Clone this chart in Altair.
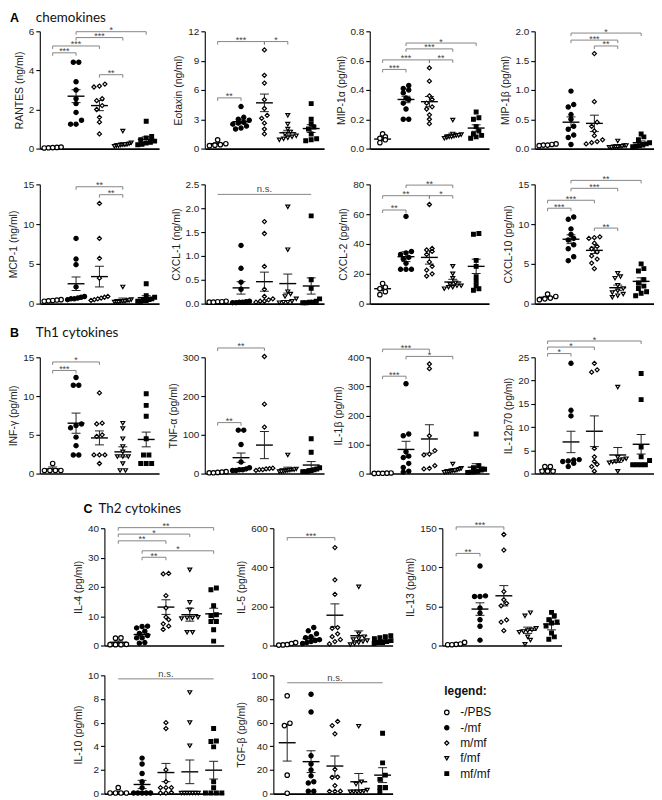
import altair as alt
import pandas as pd

GROUPS = ["-/PBS", "-/mf", "m/mf", "f/mf", "mf/mf"]
SHAPES = ["circle", "circle", "diamond", "triangle-down", "square"]
FILLS = ["white", "black", "white", "white", "black"]
SIZES = [20, 14, 26, 28, 14]

FONT = "Liberation Sans"
TFONT = "Lato"

# ---------------- A: chemokines ----------------
RANTES_VALS = [
    [0.06, 0.04, 0.08, 0.03, 0.05],
    [4.42, 4.42, 3.42, 3.0, 2.55, 2.3, 1.85, 1.45, 1.25, 1.25],
    [3.3, 3.2, 3.15, 2.55, 2.45, 2.2, 2.0, 1.6, 1.35, 0.75],
    [0.9, 0.3, 0.25, 0.22, 0.2, 0.2, 0.18, 0.15, 0.15, 0.12],
    [1.4, 0.62, 0.55, 0.45, 0.38, 0.32, 0.28, 0.22, 0.2],
]
RANTES_MEAN = [0.05, 2.68, 2.2, 0.22, 0.47]
RANTES_SEM = [0.01, 0.33, 0.26, 0.07, 0.13]
RANTES_SIG = [(1, 2, 4.9, "***"), (1, 3, 5.25, "***"), (2, 4, 5.68, "***"), (2, 5, 5.98, "*"), (3, 4, 3.78, "**")]

EOTAXIN_VALS = [
    [0.9, 0.5, 0.4, 0.35, 0.3],
    [4.3, 3.2, 3.0, 2.9, 2.7, 2.6, 2.5, 2.3, 2.1, 2.0],
    [10.1, 7.5, 6.7, 5.0, 4.1, 3.4, 3.1, 2.6, 2.0, 1.5],
    [3.4, 2.5, 2.0, 1.7, 1.5, 1.3, 1.2, 1.1, 1.0, 0.9],
    [4.6, 3.0, 2.5, 2.2, 2.0, 1.5, 1.0, 0.9, 0.8],
]
EOTAXIN_MEAN = [0.5, 2.75, 4.68, 1.62, 2.05]
EOTAXIN_SEM = [0.1, 0.2, 0.9, 0.25, 0.4]
EOTAXIN_SIG = [(1, 2, 5.19, "**"), (1, 3, 10.95, "***"), (3, 4, 10.95, "*")]

MIP1A_VALS = [
    [0.1, 0.08, 0.07, 0.06, 0.04],
    [0.43, 0.41, 0.40, 0.38, 0.345, 0.335, 0.31, 0.27, 0.2, 0.2],
    [0.55, 0.46, 0.36, 0.335, 0.31, 0.285, 0.27, 0.23, 0.2, 0.17],
    [0.195, 0.1, 0.095, 0.09, 0.09, 0.085, 0.08, 0.08, 0.075, 0.07],
    [0.25, 0.21, 0.2, 0.15, 0.12, 0.1, 0.09, 0.08, 0.07],
]
MIP1A_MEAN = [0.065, 0.335, 0.32, 0.093, 0.14]
MIP1A_SEM = [0.01, 0.022, 0.035, 0.012, 0.022]
MIP1A_SIG = [(1, 2, 0.54, "***"), (1, 3, 0.605, "***"), (3, 4, 0.605, "**"), (2, 4, 0.68, "***"), (2, 5, 0.72, "*")]

MIP1B_VALS = [
    [0.08, 0.07, 0.06, 0.06, 0.05],
    [0.98, 0.75, 0.71, 0.58, 0.5, 0.38, 0.33, 0.23, 0.19, 0.07],
    [1.62, 0.8, 0.45, 0.38, 0.3, 0.22, 0.15, 0.12, 0.1, 0.08],
    [0.13, 0.05, 0.05, 0.04, 0.04, 0.03, 0.03, 0.03, 0.02, 0.02],
    [0.25, 0.2, 0.15, 0.1, 0.08, 0.06, 0.05, 0.04, 0.03],
]
MIP1B_MEAN = [0.06, 0.45, 0.43, 0.05, 0.1]
MIP1B_SEM = [0.01, 0.09, 0.14, 0.015, 0.03]
MIP1B_SIG = [(3, 4, 1.75, "**"), (2, 4, 1.85, "***"), (2, 5, 1.97, "*")]

MCP1_VALS = [
    [0.5, 0.45, 0.4, 0.35, 0.3],
    [8.2, 5.6, 4.9, 2.1, 0.9, 0.8, 0.7, 0.6, 0.6, 0.5],
    [12.6, 8.2, 5.7, 3.2, 0.9, 0.8, 0.7, 0.6, 0.5, 0.4],
    [2.1, 0.5, 0.4, 0.4, 0.3, 0.3, 0.3, 0.2, 0.2, 0.2],
    [2.5, 1.0, 0.8, 0.6, 0.5, 0.4, 0.4, 0.3, 0.3],
]
MCP1_MEAN = [0.4, 2.5, 3.4, 0.5, 0.75]
MCP1_SEM = [0.05, 0.85, 1.3, 0.2, 0.25]
MCP1_SIG = [(2, 4, 14.7, "**"), (3, 4, 13.7, "**")]

CXCL1_VALS = [
    [0.05, 0.04, 0.04, 0.03, 0.03],
    [1.22, 0.74, 0.45, 0.3, 0.05, 0.04, 0.03, 0.03, 0.02, 0.02],
    [1.72, 1.47, 0.78, 0.3, 0.15, 0.1, 0.08, 0.05, 0.05, 0.03],
    [2.03, 1.13, 0.25, 0.2, 0.15, 0.1, 0.05, 0.03, 0.03, 0.02],
    [1.84, 0.5, 0.32, 0.1, 0.05, 0.03, 0.03, 0.02, 0.02],
]
CXCL1_MEAN = [0.04, 0.33, 0.46, 0.42, 0.37]
CXCL1_SEM = [0.01, 0.13, 0.2, 0.2, 0.17]
CXCL1_SIG = [(1, 5, 2.29, "n.s.")]

CXCL2_VALS = [
    [13.5, 11, 10, 8, 6],
    [58.5, 35, 34, 33, 31, 30, 27, 23, 23, 23],
    [66.5, 37, 36, 35, 33, 28, 25, 22.5, 20, 18.5],
    [25, 20, 17, 14, 13, 12, 12, 11, 10, 11],
    [47, 46.5, 29, 25, 18, 15, 12, 10, 9],
]
CXCL2_MEAN = [10, 31.5, 31, 14.5, 25]
CXCL2_SEM = [1.2, 3.3, 4.5, 1.8, 4.8]
CXCL2_SIG = [(1, 2, 62.8, "**"), (1, 3, 72.4, "**"), (3, 4, 72.4, "*"), (2, 4, 79.5, "**")]

CXCL10_VALS = [
    [1.2, 0.9, 0.7, 0.6, 0.5],
    [10.9, 10.6, 9.4, 8.7, 8.2, 8.0, 7.4, 6.9, 5.9, 5.4],
    [8.4, 8.3, 8.2, 7.6, 7.2, 6.9, 6.5, 6.0, 5.6, 5.1, 4.4],
    [3.8, 3.4, 3.2, 2.3, 1.9, 1.6, 1.4, 1.2, 1.0, 0.8],
    [5.0, 4.4, 4.1, 3.0, 2.6, 2.2, 1.9, 1.5, 1.3, 1.0],
]
CXCL10_MEAN = [0.8, 8.1, 6.7, 2.0, 2.8]
CXCL10_SEM = [0.12, 0.55, 0.4, 0.33, 0.45]
CXCL10_SIG = [(1, 2, 12.0, "***"), (1, 3, 13.0, "***"), (3, 4, 9.5, "**"), (2, 4, 14.5, "***"), (2, 5, 15.5, "**")]

# ---------------- B: Th1 cytokines ----------------
INFG_VALS = [
    [1.3, 0.4, 0.4, 0.4, 0.4],
    [12.4, 11.4, 11.4, 6.4, 6.2, 5.9, 4.7, 3.6, 2.4, 2.4],
    [10.4, 6.5, 6.4, 5.0, 4.8, 2.4, 2.4, 2.4, 1.3],
    [6.5, 5.8, 4.5, 3.5, 2.8, 2.2, 2.2, 2.2, 1.3, 0.4, 0.4],
    [10.3, 8.8, 7.4, 4.5, 2.4, 2.4, 1.3, 1.3, 1.3],
]
INFG_MEAN = [0.6, 6.5, 4.6, 2.8, 4.4]
INFG_SEM = [0.25, 1.3, 0.9, 0.65, 0.95]
INFG_SIG = [(1, 2, 13.3, "***"), (1, 3, 14.4, "*")]

TNFA_VALS = [
    [5, 4, 3, 2, 2],
    [112, 112, 75, 30, 15, 12, 10, 10, 8, 8],
    [302, 179, 120, 14, 13, 12, 10, 10, 8],
    [48, 12, 10, 10, 9, 8, 7, 6, 5, 5],
    [90, 55, 15, 12, 10, 8, 6, 5, 5],
]
TNFA_MEAN = [3, 41, 73.5, 12, 22]
TNFA_SEM = [0.6, 12, 35, 4.5, 9]
TNFA_SIG = [(1, 2, 131.5, "**"), (1, 3, 324, "**")]

IL1B_VALS = [
    [2, 1.5, 1, 1, 0.5],
    [309, 136, 130, 75, 60, 55, 35, 21, 8, 5],
    [377, 361, 130, 79, 67, 64, 27, 18, 16],
    [33, 18, 15, 12, 10, 10, 8, 6, 5, 4],
    [136, 27, 20, 15, 12, 8, 6, 5, 4],
]
IL1B_MEAN = [1, 83, 119, 13, 22]
IL1B_SEM = [0.3, 28, 49, 3, 12]
IL1B_SIG = [(1, 2, 335, "***"), (2, 4, 403, "*"), (1, 3, 428, "***")]

IL12_VALS = [
    [1.5, 1.5, 0.5, 0.5, 0.5],
    [23.7, 13.6, 12.4, 3.0, 2.9, 2.7, 2.6, 2.2, 1.5],
    [23.7, 22.3, 21.8, 5.4, 3.6, 2.6, 2.0, 1.5, 0.5],
    [18.6, 3.5, 3.2, 3.0, 2.8, 2.6, 2.5, 2.3, 0.5],
    [21.5, 15.9, 5.7, 3.6, 2.8, 1.9, 1.9, 1.9, 1.9],
]
IL12_MEAN = [0.8, 6.8, 9.1, 4.0, 6.3]
IL12_SEM = [0.25, 2.3, 3.3, 1.6, 2.1]
IL12_SIG = [(1, 2, 25.8, "*"), (1, 3, 27.2, "*"), (1, 5, 28.5, "*")]

# ---------------- C: Th2 cytokines ----------------
IL4_VALS = [
    [2.6, 2.5, 0.4, 0.3, 0.3, 0.3],
    [6.6, 6.5, 6.0, 4.9, 4.1, 3.4, 2.6, 2.6, 1.0, 0.8],
    [24.6, 24.4, 17.0, 12.8, 9.7, 8.8, 7.4, 6.6, 5.5],
    [25.8, 14.7, 12.2, 9.6, 9.4, 9.4, 9.2, 4.5, 4.5],
    [19.6, 19.0, 13.6, 10.5, 10.2, 8.2, 8.2, 5.4, 1.5],
]
IL4_MEAN = [1.1, 3.75, 13.1, 10.5, 10.8]
IL4_SEM = [0.45, 0.6, 2.5, 2.2, 1.9]
IL4_SIG = [(1, 5, 40.2, "**"), (1, 4, 38.0, "*"), (1, 3, 35.7, "**"), (2, 5, 32.3, "*"), (2, 3, 30.1, "**")]

IL5_VALS = [
    [15, 10, 5, 3, 2],
    [92, 75, 60, 45, 40, 30, 25, 20, 15, 10],
    [501, 336, 262, 92, 88, 60, 45, 30, 20, 8],
    [300, 60, 45, 35, 30, 25, 20, 15, 10, 5],
    [50, 45, 40, 35, 25, 20, 15, 15, 10],
]
IL5_MEAN = [7, 35, 155, 50, 25]
IL5_SEM = [2, 8, 58, 25, 5]
IL5_SIG = [(1, 3, 552, "***")]

IL13_VALS = [
    [4, 2, 1.5, 1, 1],
    [101.7, 63.5, 62.7, 62.7, 48, 41.5, 33, 24.6, 6.8],
    [142, 122, 69, 58.5, 54, 50.8, 32.7, 30, 19],
    [42, 38, 22, 20, 19, 18, 17, 11, 7, 1.5],
    [42.4, 38, 33, 30, 28.8, 25, 16, 11, 8],
]
IL13_MEAN = [2, 46.6, 63.6, 19.5, 27.5]
IL13_SEM = [0.6, 8, 13, 4, 7.5]
IL13_SIG = [(1, 2, 117.8, "**"), (1, 3, 151.7, "***")]

IL10_VALS = [
    [0.5, 0.05, 0.05, 0.05, 0.05],
    [3.0, 2.5, 1.7, 1.0, 0.5, 0.05, 0.05, 0.05, 0.05, 0.05],
    [6.0, 5.5, 2.0, 1.0, 0.5, 0.5, 0.5, 0.1, 0.05, 0.05],
    [8.55, 6.0, 4.05, 0.05, 0.05, 0.05, 0.05, 0.05, 0.05, 0.05],
    [5.5, 4.45, 4.4, 3.95, 1.0, 0.5, 0.05, 0.05, 0.05, 0.05],
]
IL10_MEAN = [0.1, 0.77, 1.78, 1.84, 1.98]
IL10_SEM = [0.08, 0.35, 0.77, 1.0, 0.75]
IL10_SIG = [(1, 5, 9.7, "n.s.")]

TGFB_VALS = [
    [82.7, 59.5, 57.5, 15.6, 0.3],
    [84, 69, 32, 25, 20, 15, 10, 9, 2, 2],
    [61, 57.5, 50.5, 20.5, 14, 13.7, 6.8, 2, 1.9, 1.9],
    [57, 10, 8, 3, 2, 1.5, 1.5, 1.5, 1.5],
    [51, 26, 15.6, 12, 5.2, 5.2, 5, 1.5],
]
TGFB_MEAN = [43, 27, 23.3, 10, 15.6]
TGFB_SEM = [15.5, 9.2, 8.5, 7, 6.3]
TGFB_SIG = [(1, 5, 93.7, "n.s.")]

SECTIONS = [("A", "chemokines"), ("B", "Th1 cytokines"), ("C", "Th2 cytokines")]

W = 120
DOMA = [0.45, 5.55]
DOMC = [0.42, 5.42]


def swarm_offsets(vals, ymax, H, dom, d=5.5, maxw=17):
    ppx = (dom[1] - dom[0]) / W
    ypx = [v / ymax * H for v in vals]
    order = sorted(range(len(vals)), key=lambda i: vals[i])
    clusters, cur = [], []
    for i in order:
        if cur and ypx[i] - ypx[cur[0]] > d * 0.8:
            clusters.append(cur)
            cur = []
        cur.append(i)
    if cur:
        clusters.append(cur)
    offs = [0.0] * len(vals)
    for c in clusters:
        n = len(c)
        step = d if (n - 1) * d <= maxw else maxw / (n - 1)
        for k, i in enumerate(c):
            offs[i] = (k - (n - 1) / 2) * step * ppx
    return offs


def anchor(H, top, bottom):
    # invisible vertical rule fixing the row's vertical extent
    return alt.Chart(pd.DataFrame({"a": [0]})).mark_rule(opacity=0, strokeWidth=1).encode(
        x=alt.value(0), y=alt.value(-top + 0.5), y2=alt.value(H + bottom - 0.5))


def panel(title, vals, mean, sem, sig, ymax, ticks, fmt, H, dom, section=None, anchors=None):
    xs = alt.Scale(domain=dom, nice=False, zero=False)
    ys = alt.Scale(domain=[0, ymax], nice=False, zero=True)
    xaxis = alt.Axis(labels=False, ticks=False, title=None, grid=False,
                     domainColor="black", domainWidth=1.6)
    yaxis = alt.Axis(values=ticks, format=fmt, title=title, grid=False,
                     domainColor="black", domainWidth=1.1, tickColor="black",
                     tickWidth=1.1, tickSize=4)

    rows = []
    for g in range(5):
        offs = swarm_offsets(vals[g], ymax, H, dom)
        for v, o in zip(vals[g], offs):
            rows.append({"grp": GROUPS[g], "x": g + 1 + o, "v": v})
    pts = pd.DataFrame(rows)

    ppx_x = (dom[1] - dom[0]) / W
    mhalf = 8.5 * ppx_x
    chalf = 4.5 * ppx_x
    tick = 3.0 / H * ymax
    rl = []
    for g in range(5):
        m, s = mean[g], sem[g]
        gx = g + 1
        lo, hi = max(0.0, m - s), m + s
        rl.append(dict(x=gx - mhalf, x2=gx + mhalf, y=m, y2=m, c="black", w=1.4))
        rl.append(dict(x=gx, x2=gx, y=lo, y2=hi, c="#222", w=1.0))
        for cy in (lo, hi):
            rl.append(dict(x=gx - chalf, x2=gx + chalf, y=cy, y2=cy, c="#222", w=1.0))
    stars, ns = [], []
    for a, b, yv, lab in sig:
        rl.append(dict(x=a, x2=b, y=yv, y2=yv, c="#777", w=0.9))
        if lab == "n.s.":
            ns.append(dict(xm=(a + b) / 2, y=yv, lab=lab))
        else:
            for gx in (a, b):
                rl.append(dict(x=gx, x2=gx, y=yv - tick, y2=yv, c="#777", w=0.9))
            stars.append(dict(xm=(a + b) / 2, y=yv, lab=lab))
    rules = pd.DataFrame(rl)

    X = lambda f: alt.X(f, scale=xs, axis=xaxis)
    Y = lambda f: alt.Y(f, scale=ys, axis=yaxis)

    layers = [
        alt.Chart(rules).mark_rule().encode(
            x=X("x:Q"), x2="x2:Q", y=Y("y:Q"), y2="y2:Q",
            color=alt.Color("c:N", scale=None),
            strokeWidth=alt.StrokeWidth("w:Q", scale=None)),
        alt.Chart(pts).mark_point(filled=True, opacity=1, stroke="black", strokeWidth=1.2).encode(
            x=X("x:Q"), y=Y("v:Q"),
            shape=alt.Shape("grp:N", scale=alt.Scale(domain=GROUPS, range=SHAPES), legend=None),
            fill=alt.Fill("grp:N", scale=alt.Scale(domain=GROUPS, range=FILLS), legend=None),
            size=alt.Size("grp:N", scale=alt.Scale(domain=GROUPS, range=SIZES), legend=None)),
    ]
    if stars:
        layers.append(alt.Chart(pd.DataFrame(stars)).mark_text(
            font=FONT, fontSize=9, color="#444", baseline="alphabetic", dy=1.5).encode(
            x=X("xm:Q"), y=Y("y:Q"), text="lab:N"))
    if ns:
        layers.append(alt.Chart(pd.DataFrame(ns)).mark_text(
            font=FONT, fontSize=9.5, color="#444", baseline="alphabetic", dy=-2).encode(
            x=X("xm:Q"), y=Y("y:Q"), text="lab:N"))
    if section is not None:
        (letter, name), lx, tx, ty = section
        layers.append(alt.Chart(pd.DataFrame({"t": [letter]})).mark_text(
            font=FONT, fontSize=12.5, fontWeight="bold", align="left", baseline="middle", color="black").encode(
            x=alt.value(lx), y=alt.value(ty), text="t:N"))
        layers.append(alt.Chart(pd.DataFrame({"t": [name]})).mark_text(
            font=TFONT, fontSize=13.5, align="left", baseline="middle", color="#111").encode(
            x=alt.value(tx), y=alt.value(ty), text="t:N"))
    if anchors is not None:
        layers.append(anchor(H, *anchors))
    return alt.layer(*layers).properties(width=W, height=H)


def spacer(w, H, top, bottom):
    return anchor(H, top, bottom).properties(width=w, height=H)


HA1, HA2, HB, HC1, HC2 = 118, 120, 117, 118, 119

rantes = panel("RANTES (ng/ml)", RANTES_VALS, RANTES_MEAN, RANTES_SEM, RANTES_SIG, 6, [0, 2, 4, 6], "d", HA1, DOMA,
               section=(SECTIONS[0], -30, -4, -13.5), anchors=(20, 20))
eotaxin = panel("Eotaxin (ng/ml)", EOTAXIN_VALS, EOTAXIN_MEAN, EOTAXIN_SEM, EOTAXIN_SIG, 12, [0, 3, 6, 9, 12], "d", HA1, DOMA)
mip1a = panel("MIP-1α (pg/ml)", MIP1A_VALS, MIP1A_MEAN, MIP1A_SEM, MIP1A_SIG, 0.8, [0, 0.2, 0.4, 0.6, 0.8], ".1f", HA1, DOMA)
mip1b = panel("MIP-1β (pg/ml)", MIP1B_VALS, MIP1B_MEAN, MIP1B_SEM, MIP1B_SIG, 2.0, [0, 0.5, 1.0, 1.5, 2.0], ".1f", HA1, DOMA)

mcp1 = panel("MCP-1 (ng/ml)", MCP1_VALS, MCP1_MEAN, MCP1_SEM, MCP1_SIG, 15, [0, 5, 10, 15], "d", HA2, DOMA,
             anchors=(16, 23))
cxcl1 = panel("CXCL-1 (ng/ml)", CXCL1_VALS, CXCL1_MEAN, CXCL1_SEM, CXCL1_SIG, 2.5, [0, 0.5, 1.0, 1.5, 2.0, 2.5], ".1f", HA2, DOMA)
cxcl2 = panel("CXCL-2 (pg/ml)", CXCL2_VALS, CXCL2_MEAN, CXCL2_SEM, CXCL2_SIG, 80, [0, 20, 40, 60, 80], "d", HA2, DOMA)
cxcl10 = panel("CXCL-10 (pg/ml)", CXCL10_VALS, CXCL10_MEAN, CXCL10_SEM, CXCL10_SIG, 15, [0, 5, 10, 15], "d", HA2, DOMA)

infg = panel("INF-γ (pg/ml)", INFG_VALS, INFG_MEAN, INFG_SEM, INFG_SIG, 15, [0, 5, 10, 15], "d", HB, DOMA,
             section=(SECTIONS[1], -30, -4, -24), anchors=(31, 28))
tnfa = panel("TNF-α (pg/ml)", TNFA_VALS, TNFA_MEAN, TNFA_SEM, TNFA_SIG, 300, [0, 100, 200, 300], "d", HB, DOMA)
il1b = panel("IL-1β (pg/ml)", IL1B_VALS, IL1B_MEAN, IL1B_SEM, IL1B_SIG, 400, [0, 100, 200, 300, 400], "d", HB, DOMA)
il12 = panel("IL-12p70 (pg/ml)", IL12_VALS, IL12_MEAN, IL12_SEM, IL12_SIG, 25, [0, 5, 10, 15, 20, 25], "d", HB, DOMA)

il4 = panel("IL-4 (pg/ml)", IL4_VALS, IL4_MEAN, IL4_SEM, IL4_SIG, 40, [0, 10, 20, 30, 40], "d", HC1, DOMC,
            section=(SECTIONS[2], -21, -6, -19.7))
il5 = panel("IL-5 (pg/ml)", IL5_VALS, IL5_MEAN, IL5_SEM, IL5_SIG, 600, [0, 200, 400, 600], "d", HC1, DOMC)
il13 = panel("IL-13 (pg/ml)", IL13_VALS, IL13_MEAN, IL13_SEM, IL13_SIG, 150, [0, 50, 100, 150], "d", HC1, DOMC)

il10 = panel("IL-10 (pg/ml)", IL10_VALS, IL10_MEAN, IL10_SEM, IL10_SIG, 10, [0, 2, 4, 6, 8, 10], "d", HC2, DOMC)
tgfb = panel("TGF-β (pg/ml)", TGFB_VALS, TGFB_MEAN, TGFB_SEM, TGFB_SIG, 100, [0, 20, 40, 60, 80, 100], "d", HC2, DOMC)

# custom legend panel
leg_df = pd.DataFrame({"grp": GROUPS, "i": list(range(5))})
leg_y = alt.Scale(domain=[-37.3 / 15.4, (HC2 - 37.3) / 15.4], reverse=True, nice=False, zero=False)
legend = alt.layer(
    alt.Chart(pd.DataFrame({"t": ["legend:"], "i": [-1.4]})).mark_text(
        font=FONT, fontSize=12, fontWeight="bold", align="left", baseline="middle", color="#111").encode(
        x=alt.value(2), y=alt.Y("i:Q", scale=leg_y, axis=None), text="t:N"),
    alt.Chart(leg_df).mark_point(filled=True, opacity=1, stroke="black", strokeWidth=1.2).encode(
        x=alt.value(4.5), y=alt.Y("i:Q", scale=leg_y, axis=None),
        shape=alt.Shape("grp:N", scale=alt.Scale(domain=GROUPS, range=SHAPES), legend=None),
        fill=alt.Fill("grp:N", scale=alt.Scale(domain=GROUPS, range=FILLS), legend=None),
        size=alt.Size("grp:N", scale=alt.Scale(domain=GROUPS, range=[14, 10, 18, 20, 10]), legend=None)),
    alt.Chart(leg_df).mark_text(font=FONT, fontSize=12, align="left", baseline="middle", color="#111").encode(
        x=alt.value(18), y=alt.Y("i:Q", scale=leg_y, axis=None), text="grp:N"),
).properties(width=W, height=HC2)

rowA1 = alt.hconcat(rantes, eotaxin, mip1a, mip1b, spacing=46, bounds="flush")
rowA2 = alt.hconcat(mcp1, cxcl1, cxcl2, cxcl10, spacing=46, bounds="flush")
rowB = alt.hconcat(infg, tnfa, il1b, il12, spacing=46, bounds="flush")
rowC1 = alt.hconcat(spacer(15, HC1, 27, 22), il4, il5, il13, spacing=50, bounds="flush")
rowC2 = alt.hconcat(spacer(15, HC2, 8, 4), il10, tgfb, legend, spacing=50, bounds="flush")

chart = alt.vconcat(rowA1, rowA2, rowB, rowC1, rowC2, spacing=0, bounds="full", padding=0)

chart = chart.configure(font=FONT).configure_view(stroke="transparent", strokeWidth=0).configure_axis(
    labelFont=FONT, titleFont=FONT, labelFontSize=10, titleFontSize=10.5,
    labelColor="#222", titleColor="#222", titleFontWeight="normal",
    labelPadding=2, titlePadding=4, grid=False,
)

chart.save("out.html", embed_options={"renderer": "svg", "actions": False})
